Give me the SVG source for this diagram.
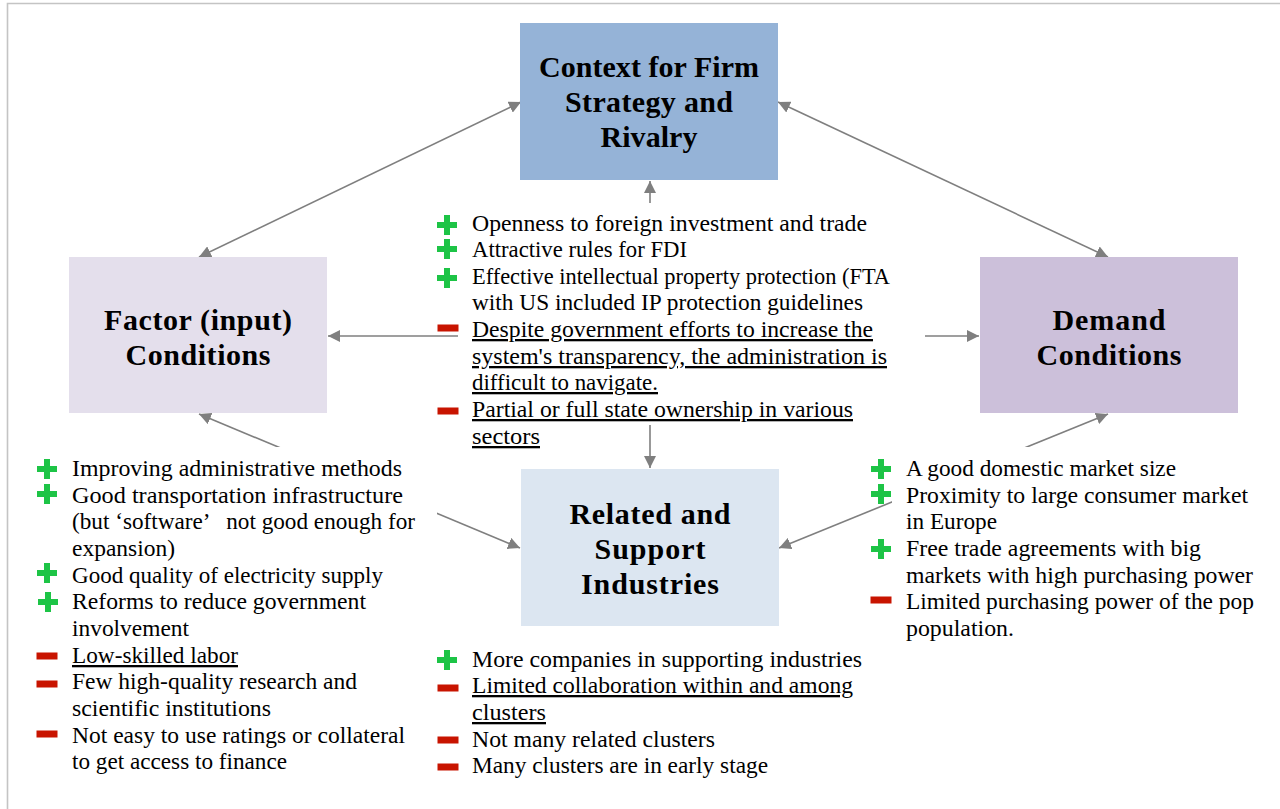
<svg xmlns="http://www.w3.org/2000/svg" xmlns:xlink="http://www.w3.org/1999/xlink" width="1280" height="809" viewBox="0 0 1280 809">
<style>
.title{font-family:"Liberation Serif","Times New Roman",serif;font-weight:bold;font-size:30px;fill:#000;text-anchor:middle}
.t{font-family:"Liberation Serif","Times New Roman",serif;font-size:23px;fill:#000}
.u{text-decoration:underline}
.conn{stroke:#7F7F7F;stroke-width:1.6;fill:none}
</style>
<defs>
<marker id="ah" markerUnits="userSpaceOnUse" markerWidth="14" markerHeight="12" refX="12" refY="6" orient="auto-start-reverse">
<path d="M0,0 L12,6 L0,12 z" fill="#7F7F7F"/>
</marker>
<path id="plus" d="M-3,-10 h6 v7 h7 v6 h-7 v7 h-6 v-7 h-7 v-6 h7 z" fill="#1DC446"/>
<rect id="minus" x="-10.5" y="-3.5" width="21" height="7" fill="#C81400"/>
</defs>
<rect x="0" y="0" width="1280" height="809" fill="#fff"/>
<path d="M7.5,809 V3.5 H1280" fill="none" stroke="#C4C4C4" stroke-width="1.6"/>

<g id="connectors">
<line class="conn" x1="521" y1="102" x2="199" y2="257" marker-start="url(#ah)" marker-end="url(#ah)"/>
<line class="conn" x1="778" y1="102" x2="1108" y2="257" marker-start="url(#ah)" marker-end="url(#ah)"/>
<line class="conn" x1="650" y1="203" x2="650" y2="181" marker-end="url(#ah)"/>
<line class="conn" x1="458" y1="336" x2="328" y2="336" marker-end="url(#ah)"/>
<line class="conn" x1="925" y1="336" x2="979" y2="336" marker-end="url(#ah)"/>
<line class="conn" x1="650" y1="425" x2="650" y2="468" marker-end="url(#ah)"/>
<line class="conn" x1="199" y1="414" x2="520" y2="548" marker-start="url(#ah)" marker-end="url(#ah)"/>
<line class="conn" x1="1108" y1="414" x2="779" y2="548" marker-start="url(#ah)" marker-end="url(#ah)"/>
</g>

<g id="node-context">
<rect x="520" y="23" width="258" height="157" fill="#95B3D7"/>
<text class="title" x="649" y="77" textLength="220">Context for Firm</text>
<text class="title" x="649" y="112" textLength="168">Strategy and</text>
<text class="title" x="649" y="147" textLength="97">Rivalry</text>
</g>

<g id="node-factor">
<rect x="69" y="257" width="258" height="156" fill="#E4DFEC"/>
<text class="title" x="198" y="330" textLength="188">Factor (input)</text>
<text class="title" x="198" y="365" textLength="145">Conditions</text>
</g>

<g id="node-demand">
<rect x="980" y="257" width="258" height="156" fill="#CCC0DA"/>
<text class="title" x="1109" y="330" textLength="113">Demand</text>
<text class="title" x="1109" y="365" textLength="145">Conditions</text>
</g>

<g id="node-related">
<rect x="521" y="469" width="258" height="157" fill="#DCE6F1"/>
<text class="title" x="650" y="524" textLength="161">Related and</text>
<text class="title" x="650" y="559" textLength="111">Support</text>
<text class="title" x="650" y="594" textLength="138">Industries</text>
</g>

<g id="text-context">
<use xlink:href="#plus" x="447" y="225"/>
<use xlink:href="#plus" x="447" y="249"/>
<use xlink:href="#plus" x="447" y="278"/>
<use xlink:href="#minus" x="448" y="328"/>
<use xlink:href="#minus" x="448" y="411"/>
<text class="t" x="472" y="231" textLength="395" lengthAdjust="spacingAndGlyphs">Openness to foreign investment and trade</text>
<text class="t" x="472" y="257" textLength="215" lengthAdjust="spacingAndGlyphs">Attractive rules for FDI</text>
<text class="t" x="472" y="284" textLength="418" lengthAdjust="spacingAndGlyphs">Effective intellectual property protection (FTA</text>
<text class="t" x="472" y="310" textLength="391" lengthAdjust="spacingAndGlyphs">with US included IP protection guidelines</text>
<text class="t u" x="472" y="337" textLength="401" lengthAdjust="spacingAndGlyphs">Despite government efforts to increase the</text>
<text class="t u" x="472" y="364" textLength="415" lengthAdjust="spacingAndGlyphs">system's transparency, the administration is</text>
<text class="t u" x="472" y="390" textLength="186" lengthAdjust="spacingAndGlyphs">difficult to navigate.</text>
<text class="t u" x="472" y="417" textLength="381" lengthAdjust="spacingAndGlyphs">Partial or full state ownership in various</text>
<text class="t u" x="472" y="444" textLength="68" lengthAdjust="spacingAndGlyphs">sectors</text>
</g>

<g id="text-factor">
<rect x="20" y="447" width="417" height="335" fill="#fff"/>
<use xlink:href="#plus" x="47" y="469"/>
<use xlink:href="#plus" x="47" y="494"/>
<use xlink:href="#plus" x="47" y="573"/>
<use xlink:href="#plus" x="48" y="602"/>
<use xlink:href="#minus" x="47" y="656"/>
<use xlink:href="#minus" x="47" y="684"/>
<use xlink:href="#minus" x="47" y="734"/>
<text class="t" x="72" y="476" textLength="330" lengthAdjust="spacingAndGlyphs">Improving administrative methods</text>
<text class="t" x="72" y="503" textLength="331" lengthAdjust="spacingAndGlyphs">Good transportation infrastructure</text>
<text class="t" x="72" y="529" textLength="343" lengthAdjust="spacingAndGlyphs">(but ‘software’ &#160;&#160;not good enough for</text>
<text class="t" x="72" y="556" textLength="103" lengthAdjust="spacingAndGlyphs">expansion)</text>
<text class="t" x="72" y="583" textLength="311" lengthAdjust="spacingAndGlyphs">Good quality of electricity supply</text>
<text class="t" x="72" y="609" textLength="294" lengthAdjust="spacingAndGlyphs">Reforms to reduce government</text>
<text class="t" x="72" y="636" textLength="117" lengthAdjust="spacingAndGlyphs">involvement</text>
<text class="t u" x="72" y="663" textLength="166" lengthAdjust="spacingAndGlyphs">Low-skilled labor</text>
<text class="t" x="72" y="689" textLength="285" lengthAdjust="spacingAndGlyphs">Few high-quality research and</text>
<text class="t" x="72" y="716" textLength="199" lengthAdjust="spacingAndGlyphs">scientific institutions</text>
<text class="t" x="72" y="743" textLength="333" lengthAdjust="spacingAndGlyphs">Not easy to use ratings or collateral</text>
<text class="t" x="72" y="769" textLength="215" lengthAdjust="spacingAndGlyphs">to get access to finance</text>
</g>

<g id="text-demand">
<rect x="892" y="447" width="375" height="200" fill="#fff"/>
<use xlink:href="#plus" x="881" y="469"/>
<use xlink:href="#plus" x="881" y="494"/>
<use xlink:href="#plus" x="881" y="549"/>
<use xlink:href="#minus" x="881" y="600"/>
<text class="t" x="906" y="476" textLength="270" lengthAdjust="spacingAndGlyphs">A good domestic market size</text>
<text class="t" x="906" y="503" textLength="342" lengthAdjust="spacingAndGlyphs">Proximity to large consumer market</text>
<text class="t" x="906" y="529" textLength="91" lengthAdjust="spacingAndGlyphs">in Europe</text>
<text class="t" x="906" y="556" textLength="295" lengthAdjust="spacingAndGlyphs">Free trade agreements with big</text>
<text class="t" x="906" y="583" textLength="347" lengthAdjust="spacingAndGlyphs">markets with high purchasing power</text>
<text class="t" x="906" y="609" textLength="348" lengthAdjust="spacingAndGlyphs">Limited purchasing power of the pop</text>
<text class="t" x="906" y="636" textLength="108" lengthAdjust="spacingAndGlyphs">population.</text>
</g>

<g id="text-related">
<use xlink:href="#plus" x="447" y="660"/>
<use xlink:href="#minus" x="448" y="688"/>
<use xlink:href="#minus" x="448" y="740"/>
<use xlink:href="#minus" x="448" y="767"/>
<text class="t" x="472" y="667" textLength="390" lengthAdjust="spacingAndGlyphs">More companies in supporting industries</text>
<text class="t u" x="472" y="693" textLength="381" lengthAdjust="spacingAndGlyphs">Limited collaboration within and among</text>
<text class="t u" x="472" y="720" textLength="74" lengthAdjust="spacingAndGlyphs">clusters</text>
<text class="t" x="472" y="747" textLength="243" lengthAdjust="spacingAndGlyphs">Not many related clusters</text>
<text class="t" x="472" y="773" textLength="296" lengthAdjust="spacingAndGlyphs">Many clusters are in early stage</text>
</g>
</svg>
